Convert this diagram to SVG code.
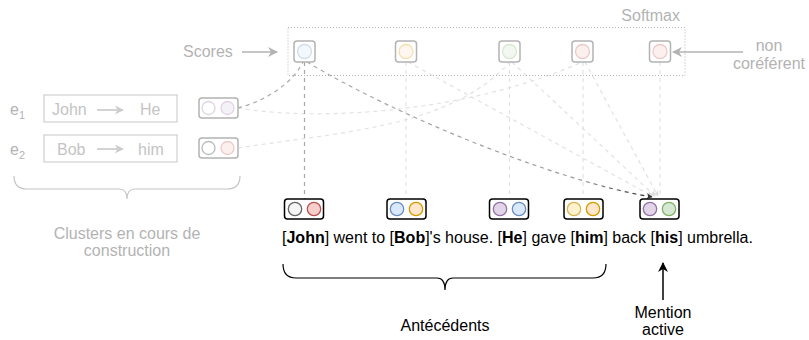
<svg xmlns="http://www.w3.org/2000/svg" width="809" height="340" viewBox="0 0 809 340">
  <defs>
    <marker id="arrGray" viewBox="0 0 10 10" refX="9" refY="5" markerWidth="12" markerHeight="10" orient="auto" markerUnits="userSpaceOnUse">
      <path d="M0,0 L10,5 L0,10 L3,5 Z" fill="#b3b3b3"/>
    </marker>
    <marker id="arrLight" viewBox="0 0 10 10" refX="9" refY="5" markerWidth="10" markerHeight="9" orient="auto" markerUnits="userSpaceOnUse">
      <path d="M0,0 L10,5 L0,10 L3,5 Z" fill="#cccccc"/>
    </marker>
    <marker id="arrBlack" viewBox="0 0 10 10" refX="9" refY="5" markerWidth="12" markerHeight="10" orient="auto" markerUnits="userSpaceOnUse">
      <path d="M0,0 L10,5 L0,10 L3,5 Z" fill="#000"/>
    </marker>
    <marker id="arrDark" viewBox="0 0 10 10" refX="9" refY="5" markerWidth="7" markerHeight="6" orient="auto" markerUnits="userSpaceOnUse">
      <path d="M0,0 L10,5 L0,10 L3,5 Z" fill="#333"/>
    </marker>
    <marker id="arrFaint" viewBox="0 0 10 10" refX="9" refY="5" markerWidth="7" markerHeight="6" orient="auto" markerUnits="userSpaceOnUse">
      <path d="M0,0 L10,5 L0,10 L3,5 Z" fill="#dadada"/>
    </marker>
    <linearGradient id="toActive" gradientUnits="userSpaceOnUse" x1="305" y1="62" x2="655" y2="198">
      <stop offset="0" stop-color="#aaaaaa"/>
      <stop offset="0.8" stop-color="#999999"/>
      <stop offset="1" stop-color="#222222"/>
    </linearGradient>
  </defs>
  <style>
    text { font-family: "Liberation Sans", Arial, Helvetica, sans-serif; font-size: 16px; }
    .lbl { fill: #b3b3b3; }
    .clbl { fill: #c4c4c4; }
    .dark { fill: #000; }
    .faint { fill: none; stroke: #e2e2e2; stroke-width: 1.2; stroke-dasharray: 4 4; }
    .mid { fill: none; stroke: #a8a8a8; stroke-width: 1.2; stroke-dasharray: 4 4; }
    .mbox { fill: #fff; stroke: #000; stroke-width: 1.5; }
    .sbox { fill: #fff; stroke: #b3b3b3; stroke-width: 1.5; }
    .cbox { fill: #fff; stroke: #d0d0d0; stroke-width: 1.2; }
    .pale { opacity: 0.3; }
    .c-gray { fill: #f5f5f5; stroke: #666; stroke-width: 1.3; }
    .c-red { fill: #f8cecc; stroke: #b85450; stroke-width: 1.3; }
    .c-blue { fill: #dae8fc; stroke: #6c8ebf; stroke-width: 1.3; }
    .c-orange { fill: #ffe6cc; stroke: #d79b00; stroke-width: 1.3; }
    .c-purple { fill: #e1d5e7; stroke: #9673a6; stroke-width: 1.3; }
    .c-yellow { fill: #fff2cc; stroke: #d6b656; stroke-width: 1.3; }
    .c-green { fill: #d5e8d4; stroke: #82b366; stroke-width: 1.3; }
    .c-white-p { fill: #fff; stroke: #9673a6; stroke-width: 1.3; }
    .c-white-k { fill: #fff; stroke: #222; stroke-width: 1.3; }
    .brace { fill: none; stroke-width: 1.2; }
  </style>

  <!-- connectors -->
  <g id="connectors">
    <!-- clusters to scores -->
    <path class="faint" d="M238,108 C320,122 470,112 582,62"/>
    <path class="faint" d="M238,148 C340,132 450,128 510,62"/>
    <path class="mid" d="M238,108 C265,101 292,84 303,62"/>
    <!-- scores down to mentions -->
    <line class="mid" x1="304.5" y1="62" x2="304.5" y2="199"/>
    <line class="faint" x1="406" y1="62" x2="406" y2="199"/>
    <line class="faint" x1="509.5" y1="62" x2="509.5" y2="199"/>
    <line class="faint" x1="583" y1="62" x2="583" y2="199"/>
    <line class="faint" x1="660" y1="62" x2="660" y2="199"/>
    <!-- scores to active mention -->
    <line class="faint" x1="408" y1="62" x2="652" y2="196" marker-end="url(#arrFaint)"/>
    <line class="faint" x1="512" y1="62" x2="655" y2="196" marker-end="url(#arrFaint)"/>
    <line class="faint" x1="585" y1="62" x2="658" y2="196" marker-end="url(#arrFaint)"/>
    <path d="M307,62 C400,118 560,182 652,197" fill="none" stroke="url(#toActive)" stroke-width="1.2" stroke-dasharray="4 4" marker-end="url(#arrDark)"/>
    <!-- side arrows -->
    <line x1="242" y1="52" x2="277" y2="52" stroke="#b3b3b3" stroke-width="1.5" marker-end="url(#arrGray)"/>
    <line x1="743" y1="52" x2="673" y2="52" stroke="#b3b3b3" stroke-width="1.5" marker-end="url(#arrGray)"/>
    <line x1="663" y1="300" x2="663" y2="263" stroke="#000" stroke-width="1.5" marker-end="url(#arrBlack)"/>
  </g>

  <!-- softmax frame -->
  <g id="softmax">
    <rect x="288" y="27.5" width="397" height="48" fill="none" stroke="#b3b3b3" stroke-width="1" stroke-dasharray="1 2"/>
    <text class="lbl" x="680" y="21" text-anchor="end">Softmax</text>
  </g>
  <text id="scores-label" class="lbl" x="183" y="57">Scores</text>
  <g id="non-coref-label" class="lbl">
    <text class="lbl" x="769" y="51" text-anchor="middle">non</text>
    <text class="lbl" x="769" y="69" text-anchor="middle">coréférent</text>
  </g>

  <!-- score nodes -->
  <g id="score-1"><rect class="sbox" x="294" y="41" width="21" height="21" rx="3"/><circle class="c-blue pale" cx="304.5" cy="51.5" r="7"/></g>
  <g id="score-2"><rect class="sbox" x="395.5" y="41" width="21" height="21" rx="3"/><circle class="c-orange pale" cx="406" cy="51.5" r="7"/></g>
  <g id="score-3"><rect class="sbox" x="499" y="41" width="21" height="21" rx="3"/><circle class="c-green pale" cx="509.5" cy="51.5" r="7"/></g>
  <g id="score-4"><rect class="sbox" x="572" y="41" width="21" height="21" rx="3"/><circle class="c-red pale" cx="582.5" cy="51.5" r="7"/></g>
  <g id="score-5"><rect class="sbox" x="649.5" y="41" width="21" height="21" rx="3"/><circle class="c-red pale" cx="660" cy="51.5" r="7"/></g>

  <!-- clusters under construction -->
  <g id="cluster-e1">
    <text class="lbl" x="10" y="115">e<tspan font-size="11" dy="4">1</tspan></text>
    <rect class="cbox" x="44" y="95" width="133" height="27"/>
    <text class="clbl" x="52" y="115">John</text>
    <line x1="97" y1="110" x2="123" y2="110" stroke="#c4c4c4" stroke-width="1.5" marker-end="url(#arrLight)"/>
    <text class="clbl" x="140" y="115">He</text>
  </g>
  <g id="cluster-e1-state">
    <rect class="sbox" x="199" y="98" width="39" height="20" rx="3"/>
    <g class="pale"><circle class="c-white-p" cx="208.5" cy="108" r="6.5"/><circle class="c-purple" cx="227.5" cy="108" r="6.5"/></g>
  </g>
  <g id="cluster-e2">
    <text class="lbl" x="10" y="155">e<tspan font-size="11" dy="4">2</tspan></text>
    <rect class="cbox" x="44" y="135" width="133" height="27"/>
    <text class="clbl" x="57" y="155">Bob</text>
    <line x1="97" y1="149" x2="123" y2="149" stroke="#c4c4c4" stroke-width="1.5" marker-end="url(#arrLight)"/>
    <text class="clbl" x="138" y="155">him</text>
  </g>
  <g id="cluster-e2-state">
    <rect class="sbox" x="199" y="138" width="39" height="20" rx="3"/>
    <g class="pale"><circle class="c-white-k" cx="208.5" cy="148" r="6.5"/><circle class="c-red" cx="227.5" cy="148" r="6.5"/></g>
  </g>
  <g id="clusters-brace">
    <path class="brace" stroke="#c4c4c4" d="M14,176 Q14,189 27,189 L119,189 Q127,189 127,199 Q127,189 135,189 L227,189 Q240,189 240,176"/>
    <text class="lbl" x="127" y="239" text-anchor="middle">Clusters en cours de</text>
    <text class="lbl" x="127" y="256" text-anchor="middle">construction</text>
  </g>

  <!-- mentions -->
  <g id="mention-john"><rect class="mbox" x="284.5" y="199" width="39" height="20" rx="3"/><circle class="c-gray" cx="295" cy="209" r="6.7"/><circle class="c-red" cx="314" cy="209" r="6.7"/></g>
  <g id="mention-bob"><rect class="mbox" x="387" y="199" width="39" height="20" rx="3"/><circle class="c-blue" cx="397" cy="209" r="6.7"/><circle class="c-orange" cx="416" cy="209" r="6.7"/></g>
  <g id="mention-he"><rect class="mbox" x="489.5" y="199" width="39" height="20" rx="3"/><circle class="c-purple" cx="500" cy="209" r="6.7"/><circle class="c-blue" cx="519" cy="209" r="6.7"/></g>
  <g id="mention-him"><rect class="mbox" x="564" y="199" width="39" height="20" rx="3"/><circle class="c-yellow" cx="574" cy="209" r="6.7"/><circle class="c-orange" cx="593" cy="209" r="6.7"/></g>
  <g id="mention-his"><rect class="mbox" x="640" y="199" width="39" height="20" rx="3"/><circle class="c-purple" cx="650" cy="209" r="6.7"/><circle class="c-green" cx="669" cy="209" r="6.7"/></g>

  <text id="sentence" class="dark" x="282" y="243">[<tspan font-weight="bold">John</tspan>] went to [<tspan font-weight="bold">Bob</tspan>]'s house. [<tspan font-weight="bold">He</tspan>] gave [<tspan font-weight="bold">him</tspan>] back [<tspan font-weight="bold">his</tspan>] umbrella.</text>

  <g id="antecedents">
    <path class="brace" stroke="#000" d="M283,264 Q283,278 296,278 L437,278 Q445,278 445,290 Q445,278 453,278 L593,278 Q606,278 606,264"/>
    <text class="dark" x="445" y="331" text-anchor="middle">Antécédents</text>
  </g>
  <g id="active-mention">
    <text class="dark" x="663" y="318" text-anchor="middle">Mention</text>
    <text class="dark" x="663" y="335" text-anchor="middle">active</text>
  </g>
</svg>
